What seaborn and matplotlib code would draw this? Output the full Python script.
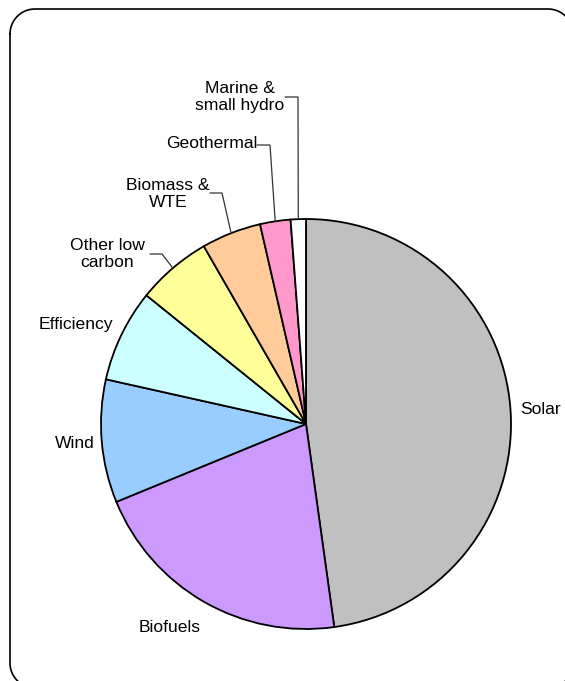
import numpy as np
import matplotlib
matplotlib.use("Agg")
import matplotlib.pyplot as plt
import seaborn as sns
from matplotlib.lines import Line2D

sns.set_theme(style="white")
plt.rcParams['font.family'] = ['Liberation Sans', 'DejaVu Sans']
plt.rcParams['savefig.bbox'] = 'standard'

# Data
categories = ["Solar", "Biofuels", "Wind", "Efficiency", "Other low\ncarbon",
              "Biomass &\nWTE", "Geothermal", "Marine &\nsmall hydro"]
shares = [47.8, 21.0, 9.7, 7.3, 5.9, 4.7, 2.4, 1.2]
colors = ["#C0C0C0", "#CC99FF", "#99CCFF", "#CCFFFF", "#FFFF99",
          "#FFCC99", "#FF99CC", "#FFFFFF"]

W, H = 565, 681
fig = plt.figure(figsize=(W / 100, H / 100), dpi=100)
ax = fig.add_axes([0, 0, 1, 1])

cx, cy, R = 306, H - 424, 205

wedges, _ = ax.pie(shares, colors=colors, startangle=90, counterclock=False,
                   center=(cx, cy), radius=R, frame=True,
                   wedgeprops=dict(edgecolor="black", linewidth=1.3))
ax.set_xlim(0, W)
ax.set_ylim(0, H)
ax.set_aspect("equal")
ax.axis("off")

# label positions (pixel coords, y from top)
label_pos = {
    "Solar": (541, 410),
    "Biofuels": (170, 628),
    "Wind": (75, 444),
    "Efficiency": (76, 324),
    "Other low\ncarbon": (107, 254),
    "Biomass &\nWTE": (168, 194),
    "Geothermal": (212, 144),
    "Marine &\nsmall hydro": (240, 97),
}
for name in categories:
    x, y = label_pos[name]
    ax.text(x, H - y, name, ha="center", va="center", fontsize=12.6,
            color="black", linespacing=1.12)

# leader lines: text end -> elbow -> wedge edge (mid angle)
leaders = {
    "Other low\ncarbon": ((150, 254), (162, 254)),
    "Biomass &\nWTE": ((210, 193), (222, 193)),
    "Geothermal": ((257, 145), (270, 145)),
    "Marine &\nsmall hydro": ((285, 97), (298, 97)),
}
for w, name in zip(wedges, categories):
    if name in leaders:
        mid = np.deg2rad((w.theta1 + w.theta2) / 2)
        ex, ey = cx + R * np.cos(mid), cy + R * np.sin(mid)
        (tx, ty), (bx, by) = leaders[name]
        ax.plot([tx, bx, ex], [H - ty, H - by, ey], color="#333333",
                lw=0.9, solid_joinstyle="miter")

# rounded frame (pixel coords, y from top), partly beyond the canvas
xl, xr, yt, yb, rr = 10, 573, 9, 688, 25
def corner(ccx, ccy, a0, a1):
    t = np.deg2rad(np.linspace(a0, a1, 20))
    return ccx + rr * np.cos(t), ccy - rr * np.sin(t)
segs = [corner(xl + rr, yt + rr, 180, 90), corner(xr - rr, yt + rr, 90, 0),
        corner(xr - rr, yb - rr, 0, -90), corner(xl + rr, yb - rr, -90, -180)]
fx = np.concatenate([s[0] for s in segs] + [segs[0][0][:1]])
fy = np.concatenate([s[1] for s in segs] + [segs[0][1][:1]])
ax.add_line(Line2D(fx, H - fy, color="black", lw=1.2, clip_on=False))

fig.savefig("out.png", dpi=100, facecolor="white", bbox_inches=None)
